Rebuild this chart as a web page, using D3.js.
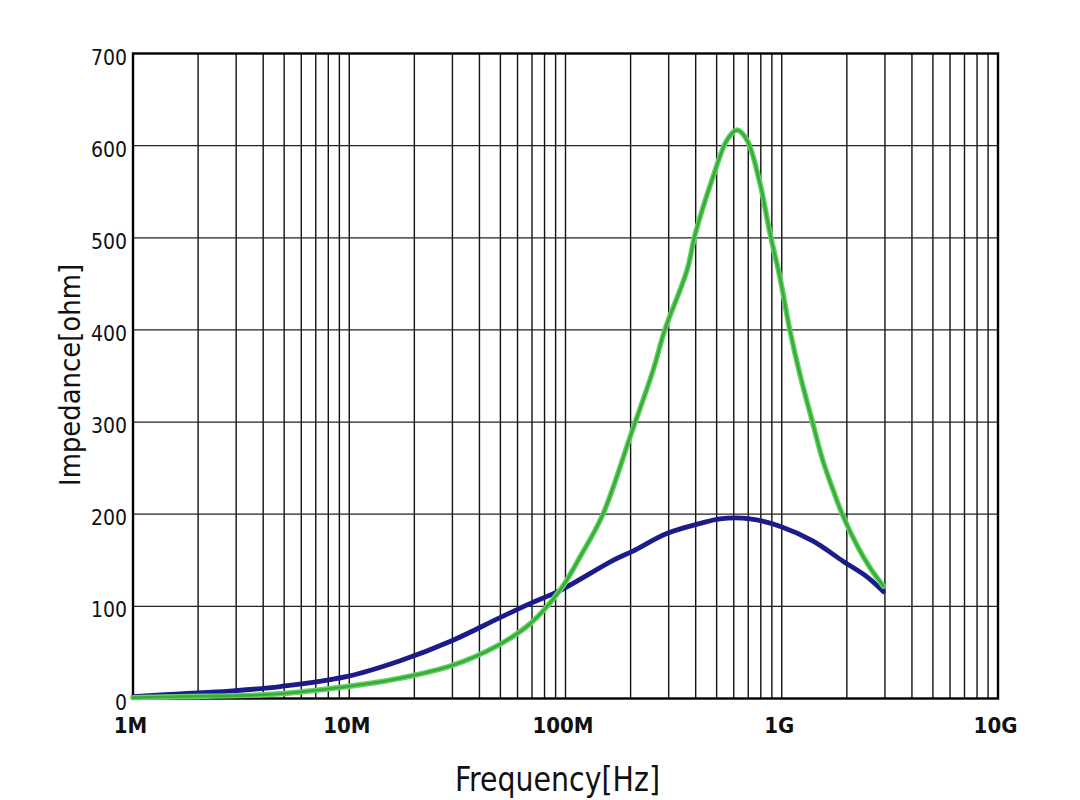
<!DOCTYPE html>
<html>
<head>
<meta charset="utf-8">
<script src="https://cdn.jsdelivr.net/npm/d3@7"></script>
<style>
  html, body { margin: 0; padding: 0; background: #ffffff; }
  svg { display: block; }
</style>
</head>
<body>
<svg id="chart" width="1080" height="800"></svg>
<script>
// ---- data (frequency in MHz, impedance in ohm) ----
const blueFreqMHz = [1, 1.65, 2.8, 4.8, 9.8, 17.2, 30, 49, 68.5, 94, 166, 205, 294, 420, 518, 713, 980, 1390, 1920, 2480, 2950];
const blueOhm     = [2, 5, 8, 13, 24, 41, 63, 87, 103, 117, 150, 160, 179, 190, 195, 195, 187, 171, 149, 132, 116];

const greenFreqMHz = [1, 1.65, 4, 5.9, 9.8, 17.2, 30, 49, 68.5, 94, 117, 149, 199, 254, 288, 365, 397, 481, 558, 621, 691, 793, 882, 981, 1090, 1210, 1380, 1550, 1730, 1920, 2230, 2560, 2950];
const greenOhm     = [1, 2, 4, 7, 13, 22, 36, 58, 81, 117, 154, 200, 284, 356, 400, 465, 503, 566, 606, 617, 606, 559, 505, 457, 400, 353, 302, 258, 226, 198, 166, 142, 122];

const xTickValuesHz = [1e6, 1e7, 1e8, 1e9, 1e10];
const xTickLabels   = ["1M", "10M", "100M", "1G", "10G"];
const yTickValues   = [0, 100, 200, 300, 400, 500, 600, 700];
const xTitle = "Frequency[Hz]";
const yTitle = "Impedance[ohm]";

// ---- layout ----
const L = 133, R = 998, T = 53.5, B = 698.5;
const svg = d3.select("#chart");

const x = d3.scaleLog().domain([1e6, 1e10]).range([L, R]);
const y = d3.scaleLinear().domain([0, 700]).range([B, T]);

// minor + major vertical grid
const vGrid = [];
for (let d = 6; d < 10; d++) {
  for (let k = 1; k <= 9; k++) vGrid.push(k * Math.pow(10, d));
}
vGrid.push(1e10);

const grid = svg.append("g");
grid.selectAll("line.v").data(vGrid).enter().append("line")
  .attr("x1", d => x(d)).attr("x2", d => x(d))
  .attr("y1", T).attr("y2", B)
  .attr("stroke", "#111").attr("stroke-width", 1.4);

grid.selectAll("line.h").data(yTickValues).enter().append("line")
  .attr("x1", L).attr("x2", R)
  .attr("y1", d => y(d)).attr("y2", d => y(d))
  .attr("stroke", "#222").attr("stroke-width", 1.2);

// frame
svg.append("rect")
  .attr("x", L).attr("y", T).attr("width", R - L).attr("height", B - T)
  .attr("fill", "none").attr("stroke", "#000").attr("stroke-width", 2.4);

const tickFont = "'Liberation Sans Narrow', 'DejaVu Sans Condensed', sans-serif";

// axes via d3
const yAxis = d3.axisLeft(y).tickValues(yTickValues).tickSize(0).tickPadding(6);
const yG = svg.append("g").attr("transform", `translate(${L},0)`).call(yAxis);
yG.select(".domain").remove();
yG.selectAll("text")
  .attr("font-family", tickFont)
  .attr("font-size", 21).attr("fill", "#111")
  .attr("dy", "0.5em");

const xAxis = d3.axisBottom(x).tickValues(xTickValuesHz)
  .tickFormat((d, i) => xTickLabels[i]).tickSize(0).tickPadding(19);
const xG = svg.append("g").attr("transform", `translate(-3,${B})`).call(xAxis);
xG.select(".domain").remove();
xG.selectAll("text")
  .attr("font-family", tickFont)
  .attr("font-weight", "bold")
  .attr("font-size", 22).attr("fill", "#111");

// titles
svg.append("text")
  .attr("x", 455).attr("y", 791)
  .attr("textLength", 205).attr("lengthAdjust", "spacingAndGlyphs")
  .attr("font-family", tickFont)
  .attr("font-size", 33).attr("fill", "#111")
  .text(xTitle);

svg.append("text")
  .attr("transform", "translate(80,486) rotate(-90)")
  .attr("textLength", 222).attr("lengthAdjust", "spacingAndGlyphs")
  .attr("font-family", tickFont)
  .attr("font-size", 29).attr("fill", "#111")
  .text(yTitle);

// curves
const line = d3.line()
  .x(d => x(d[0] * 1e6))
  .y(d => y(d[1]))
  .curve(d3.curveCatmullRom.alpha(0.5));

const blueData = blueFreqMHz.map((f, i) => [f, blueOhm[i]]);
const greenData = greenFreqMHz.map((f, i) => [f, greenOhm[i]]);

svg.append("path").datum(blueData)
  .attr("d", line).attr("fill", "none")
  .attr("stroke", "#1b1b8a").attr("stroke-width", 4.8)
  .attr("stroke-linejoin", "round").attr("stroke-linecap", "round");

svg.append("path").datum(greenData)
  .attr("d", line).attr("fill", "none")
  .attr("stroke", "#62d362").attr("stroke-width", 5.4)
  .attr("stroke-linejoin", "round").attr("stroke-linecap", "round");
svg.append("path").datum(greenData)
  .attr("d", line).attr("fill", "none")
  .attr("stroke", "#3aaa3a").attr("stroke-width", 2.6)
  .attr("stroke-linejoin", "round").attr("stroke-linecap", "round");
</script>
</body>
</html>
